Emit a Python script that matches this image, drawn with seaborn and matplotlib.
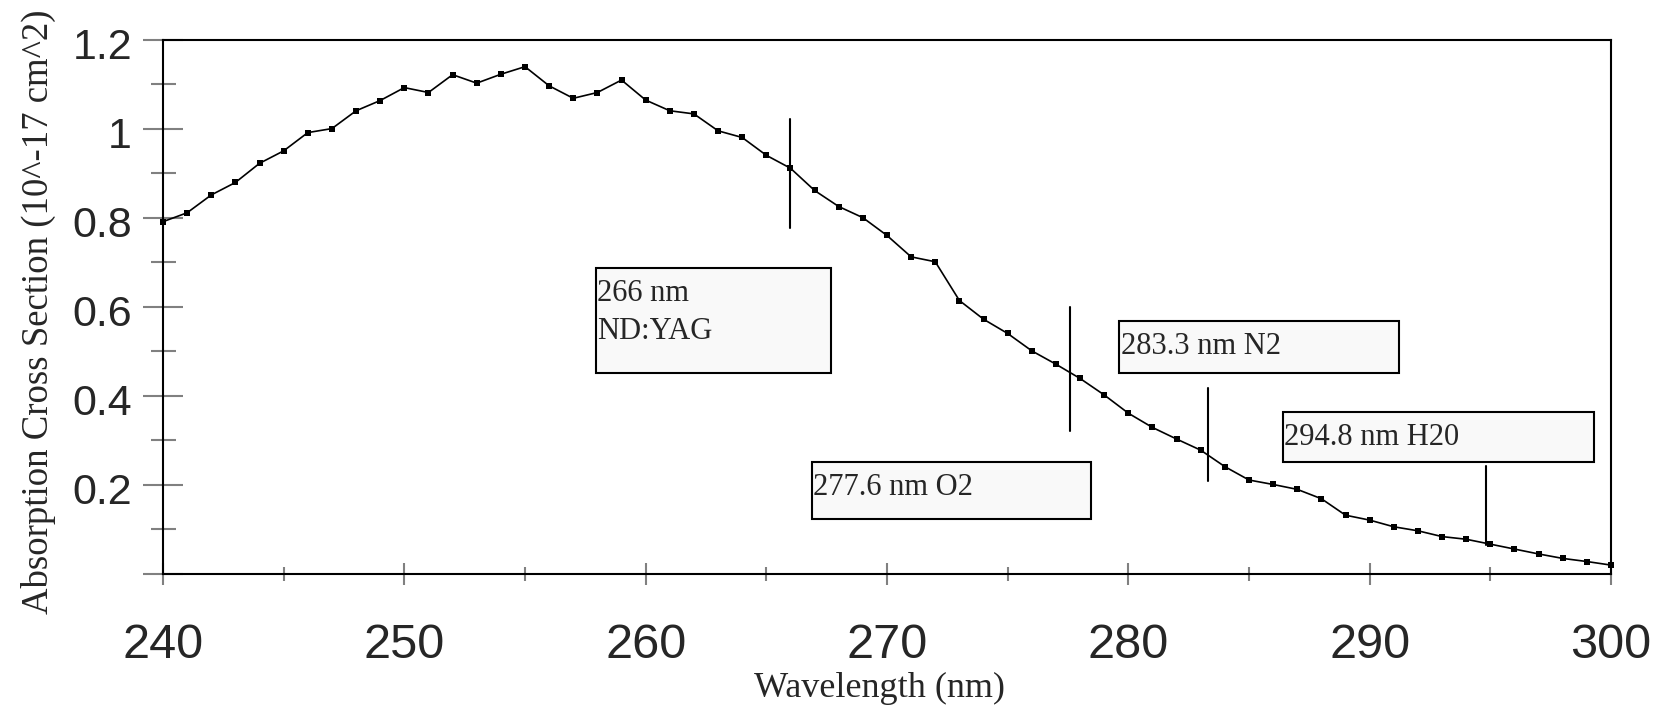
import matplotlib
matplotlib.use("Agg")
import matplotlib.pyplot as plt
from matplotlib.patches import Rectangle
from matplotlib.ticker import FixedLocator, FixedFormatter
from matplotlib.transforms import ScaledTranslation
import pandas as pd
import seaborn as sns

# Absorption cross section of ozone, sampled every nanometre
wavelength_nm = list(range(240, 301))
cross_section = [0.791, 0.811, 0.851, 0.879, 0.922, 0.950, 0.991, 1.000, 1.040, 1.063,
                 1.092, 1.081, 1.121, 1.102, 1.122, 1.139, 1.096, 1.068, 1.081, 1.109,
                 1.064, 1.040, 1.033, 0.995, 0.980, 0.940, 0.911, 0.861, 0.825, 0.800,
                 0.760, 0.712, 0.701, 0.614, 0.572, 0.540, 0.501, 0.471, 0.439, 0.402,
                 0.361, 0.329, 0.303, 0.278, 0.241, 0.211, 0.201, 0.190, 0.169, 0.132,
                 0.121, 0.106, 0.097, 0.084, 0.078, 0.067, 0.056, 0.045, 0.035, 0.028,
                 0.020]

# Laser lines of interest
laser_nm = [266.0, 277.6, 283.3, 294.8]
laser_labels = ["266 nm\nND:YAG", "277.6 nm O2", "283.3 nm N2", "294.8 nm H20"]

# Axis ticks
x_major = [240, 250, 260, 270, 280, 290, 300]
x_minor = [245, 255, 265, 275, 285, 295]
y_major = [0.0, 0.2, 0.4, 0.6, 0.8, 1.0, 1.2]
y_major_labels = ["", "0.2", "0.4", "0.6", "0.8", "1", "1.2"]
y_minor = [0.1, 0.3, 0.5, 0.7, 0.9, 1.1]

# Annotation layout: vertical extent of each marker line, and label boxes (x0, y0, x1, y1)
marker_spans = [(0.777, 1.022), (0.321, 0.600), (0.209, 0.418), (0.065, 0.2425)]
label_boxes = [(257.94, 0.451, 267.69, 0.686),
               (266.89, 0.123, 278.47, 0.252),
               (279.63, 0.452, 291.21, 0.569),
               (286.41, 0.251, 299.30, 0.364)]
first_baseline = 0.074   # below the box top, in data units
line_step = 0.084        # between successive lines of a box

sns.set_style("white")
serif = ["Liberation Serif", "DejaVu Serif"]
sans = ["Liberation Sans", "DejaVu Sans"]

fig = plt.figure(figsize=(16.73, 7.07), dpi=100)
ax = fig.add_axes([163 / 1673, 133 / 707, 1448 / 1673, 534.5 / 707])

df = pd.DataFrame({"wavelength": wavelength_nm, "sigma": cross_section})
sns.lineplot(data=df, x="wavelength", y="sigma", ax=ax, color="black", lw=1.2,
             marker="s", markersize=4.5, markeredgewidth=0, markerfacecolor="black",
             clip_on=False, zorder=5)

# Marker lines and labelled boxes
for wl, (y0, y1) in zip(laser_nm, marker_spans):
    ax.plot([wl, wl], [y0, y1], color="black", lw=1.5, zorder=6)

for text, (bx0, by0, bx1, by1) in zip(laser_labels, label_boxes):
    ax.add_patch(Rectangle((bx0, by0), bx1 - bx0, by1 - by0, facecolor="#f9f9f9",
                           edgecolor="black", lw=1.5, zorder=4))
    for i, line in enumerate(text.split("\n")):
        ax.text(bx0 + 0.06, by1 - first_baseline - i * line_step, line,
                ha="left", va="baseline", family=serif, fontsize=22, zorder=7)

ax.set_xlim(240, 300)
ax.set_ylim(0, 1.2)

ax.xaxis.set_major_locator(FixedLocator(x_major))
ax.xaxis.set_minor_locator(FixedLocator(x_minor))
ax.yaxis.set_major_locator(FixedLocator(y_major))
ax.yaxis.set_major_formatter(FixedFormatter(y_major_labels))
ax.yaxis.set_minor_locator(FixedLocator(y_minor))

tick_grey = "#808080"
ax.tick_params(axis="x", which="major", direction="inout", length=16, width=1.5,
               color=tick_grey, pad=27, labelsize=35, bottom=True)
ax.tick_params(axis="x", which="minor", direction="inout", length=9.5, width=1.5,
               color=tick_grey, bottom=True)
ax.tick_params(axis="y", which="major", direction="inout", length=29.5, width=1.5,
               color=tick_grey, pad=7.5, labelsize=31, left=True)
ax.tick_params(axis="y", which="minor", direction="inout", length=18, width=1.5,
               color=tick_grey, left=True)

for lab in ax.get_xticklabels() + ax.get_yticklabels():
    lab.set_family(sans)
shift = ScaledTranslation(0, -4 / 100, fig.dpi_scale_trans)
for lab in ax.get_yticklabels():
    lab.set_transform(lab.get_transform() + shift)

for side in ["left", "right", "top", "bottom"]:
    ax.spines[side].set_visible(True)
    ax.spines[side].set_color("black")
    ax.spines[side].set_linewidth(1.5)

ax.set_xlabel("Wavelength (nm)", family=serif, fontsize=26)
ax.set_ylabel("Absorption Cross Section (10^-17 cm^2)", family=serif, fontsize=26.5)
ax.xaxis.set_label_coords(0.495, -0.183)
ax.yaxis.set_label_coords(-0.074, 0.49)

fig.savefig("out.png", dpi=100, facecolor="white")
